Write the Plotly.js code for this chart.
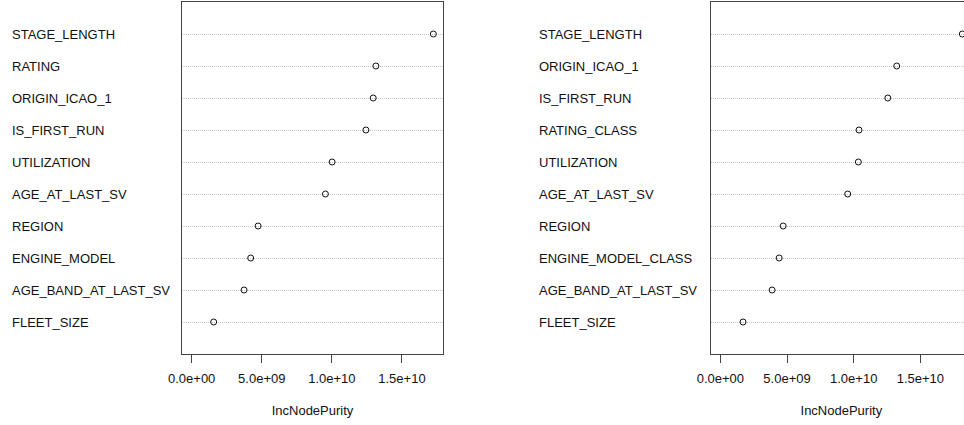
<!DOCTYPE html>
<html>
<head>
<meta charset="utf-8">
<script src="https://cdn.plot.ly/plotly-3.0.1.min.js"></script>
<style>
html,body{margin:0;padding:0;overflow:hidden;background:#fff;width:964px;height:425px;}
#chart{width:990px;height:425px;}
</style>
</head>
<body>
<div id="chart"></div>
<script>
// Left panel (bottom to top)
var leftVars = ['FLEET_SIZE','AGE_BAND_AT_LAST_SV','ENGINE_MODEL','REGION','AGE_AT_LAST_SV','UTILIZATION','IS_FIRST_RUN','ORIGIN_ICAO_1','RATING','STAGE_LENGTH'];
var leftValues = [1.57e9, 3.74e9, 4.21e9, 4.74e9, 9.54e9, 10.02e9, 12.43e9, 12.95e9, 13.14e9, 17.24e9];
// Right panel (bottom to top)
var rightVars = ['FLEET_SIZE','AGE_BAND_AT_LAST_SV','ENGINE_MODEL_CLASS','REGION','AGE_AT_LAST_SV','UTILIZATION','RATING_CLASS','IS_FIRST_RUN','ORIGIN_ICAO_1','STAGE_LENGTH'];
var rightValues = [1.70e9, 3.88e9, 4.41e9, 4.71e9, 9.55e9, 10.35e9, 10.40e9, 12.56e9, 13.23e9, 18.15e9];
// Axis ticks
var tickValues = [0, 5e9, 1e10, 1.5e10];
var tickLabels = ['0.0e+00','5.0e+09','1.0e+10','1.5e+10'];
var xTitle = 'IncNodePurity';

var W = 990;
var FONT = 'Liberation Sans, Arial, sans-serif';
var TXT = '#111';
var LINE = '#444';

function xRange(vals){
  var m = Math.max.apply(null, vals);
  return [-0.04*m, 1.04*m];
}

var markerStyle = {symbol:'circle-open', size:6, color:'#111', line:{width:1, color:'#111'}};

var traces = [
  {type:'scatter', mode:'markers', x:leftValues, y:leftVars, xaxis:'x', yaxis:'y', marker:markerStyle, hoverinfo:'x+y', showlegend:false},
  {type:'scatter', mode:'markers', x:rightValues, y:rightVars, xaxis:'x2', yaxis:'y2', marker:markerStyle, hoverinfo:'x+y', showlegend:false}
];

function xaxisDef(domain, vals, anchor){
  return {
    domain: domain, anchor: anchor, range: xRange(vals),
    tickmode:'array', tickvals: tickValues, ticktext: tickLabels,
    ticks:'outside', ticklen:8, tickwidth:1, tickcolor:LINE,
    ticklabelstandoff:4,
    showline:true, linecolor:LINE, linewidth:1, mirror:true,
    showgrid:false, zeroline:false,
    tickfont:{family:FONT, size:13, color:TXT},
    title:{text:xTitle, font:{family:FONT, size:13, color:TXT}, standoff:21}
  };
}
function yaxisDef(cats, anchor){
  return {
    domain:[0,1], anchor: anchor, type:'category',
    categoryorder:'array', categoryarray: cats, range:[-1, cats.length],
    showticklabels:false, ticks:'',
    showline:true, linecolor:LINE, linewidth:1, mirror:true,
    showgrid:true, gridcolor:'#c4c4c4', griddash:'1px,1px', gridwidth:1,
    zeroline:false
  };
}

var annotations = [];
leftVars.forEach(function(v){
  annotations.push({xref:'paper', yref:'y', x:10/W, y:v, text:v, showarrow:false, xanchor:'left', yanchor:'middle', font:{family:FONT, size:13, color:TXT}});
});
rightVars.forEach(function(v){
  annotations.push({xref:'paper', yref:'y2', x:537/W, y:v, text:v, showarrow:false, xanchor:'left', yanchor:'middle', font:{family:FONT, size:13, color:TXT}});
});

var layout = {
  width: W, height: 425,
  margin:{l:0, r:0, t:2, b:71, pad:0},
  paper_bgcolor:'#fff', plot_bgcolor:'#fff',
  font:{family:FONT, size:13, color:TXT},
  xaxis: xaxisDef([182/W, 443/W], leftValues, 'y'),
  yaxis: yaxisDef(leftVars, 'x'),
  xaxis2: xaxisDef([710.7/W, 972/W], rightValues, 'y2'),
  yaxis2: yaxisDef(rightVars, 'x2'),
  annotations: annotations,
  showlegend:false
};

Plotly.newPlot('chart', traces, layout, {displayModeBar:false, staticPlot:true});
</script>
</body>
</html>
